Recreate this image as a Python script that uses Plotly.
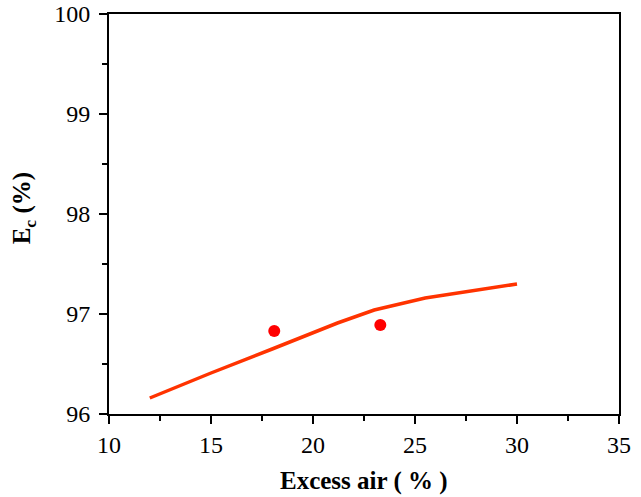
import plotly.graph_objects as go

line_x = [12.0, 15.0, 18.0, 21.2, 23.0, 25.5, 30.0]
line_y = [96.16, 96.41, 96.65, 96.91, 97.04, 97.16, 97.30]
pts_x = [18.1, 23.3]
pts_y = [96.83, 96.89]

fig = go.Figure()
fig.add_trace(go.Scatter(x=line_x, y=line_y, mode="lines",
                         line=dict(color="#FF3300", width=3.5), showlegend=False))
fig.add_trace(go.Scatter(x=pts_x, y=pts_y, mode="markers",
                         marker=dict(color="#FF0000", size=12), showlegend=False))

font = "Liberation Serif, Times New Roman, serif"
axcommon = dict(showgrid=False, zeroline=False, showline=True, linecolor="black",
                linewidth=2, mirror=True, ticks="outside", tickcolor="black",
                tickwidth=1.5, ticklen=8, automargin=False,
                tickfont=dict(family=font, size=24, color="black"))
fig.update_xaxes(range=[10, 35], dtick=5, tick0=10,
                 minor=dict(ticks="outside", dtick=2.5, ticklen=5, tickcolor="black", tickwidth=1.5),
                 **axcommon)
fig.update_yaxes(range=[96, 100], dtick=1, tick0=96, ticklabelstandoff=4,
                 minor=dict(ticks="outside", dtick=0.5, ticklen=5, tickcolor="black", tickwidth=1.5),
                 **axcommon)
fig.add_annotation(text="<b>Excess air ( % )</b>", xref="paper", yref="paper",
                   x=0.5, y=-0.128, yanchor="top", showarrow=False,
                   font=dict(family=font, size=25, color="black"))
fig.add_annotation(text="<b>E<sub>c</sub> (%)</b>", xref="paper", yref="paper",
                   x=-0.168, y=0.515, xanchor="center", textangle=-90, showarrow=False,
                   font=dict(family=font, size=25, color="black"))
fig.update_layout(width=641, height=497, margin=dict(l=109, r=22, t=14, b=83),
                  plot_bgcolor="white", paper_bgcolor="white")
fig.write_html("out.html")
